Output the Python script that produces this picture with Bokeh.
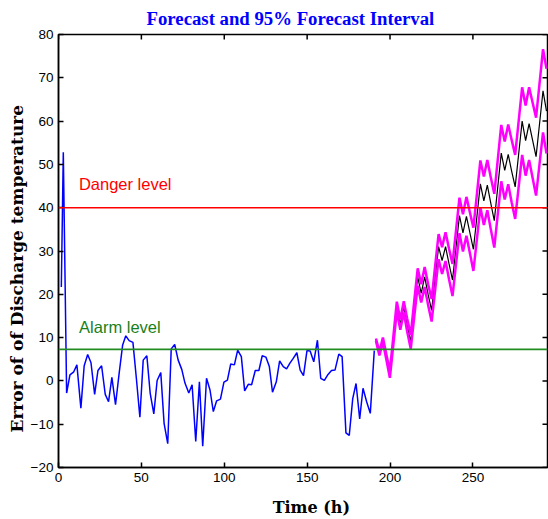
import math
from bokeh.plotting import figure
from bokeh.models import Range1d, Span, Label, FixedTicker
from bokeh.embed import file_html
from bokeh.resources import INLINE

# observed error series (hours, value)
obs_hours = [1.7, 2.9, 4.9, 6.9, 9.2, 11.1, 13.5, 15.5, 17.6, 19.6, 21.8, 23.8, 26.0, 28.2, 30.2,
             32.2, 34.4, 36.6, 38.7, 40.6, 42.6, 44.9, 47.0, 49.1, 51.1, 53.3, 55.3, 57.5, 59.5, 61.7,
             63.7, 65.9, 68.0, 70.1, 72.2, 74.4, 76.3, 78.6, 80.6, 82.8, 85.0, 87.0, 89.3, 91.4, 93.4,
             95.4, 97.7, 99.8, 101.9, 103.9, 106.1, 108.1, 110.3, 112.3, 114.5, 116.5, 118.7, 120.9, 122.9, 125.1,
             127.2, 129.1, 131.4, 133.4, 135.6, 137.6, 139.6, 141.6, 143.8, 145.8, 147.8, 149.9, 151.8, 154.0, 156.2,
             158.2, 160.4, 162.6, 164.7, 166.8, 169.1, 171.1, 173.4, 175.4, 177.5, 179.5, 181.7, 183.7, 185.9, 188.1,
             190.5]
obs_values = [21.7, 52.8, -2.8, 1.4, 2.1, 3.7, -6.3, 3.5, 6.1, 4.2, -3.1, 2.4, 3.5, -3.1, -4.8,
              0.8, -5.5, 1.8, 8.3, 10.4, 9.3, 8.9, 0.5, -8.4, 4.8, 5.8, -2.8, -7.6, 0.1, 1.9,
              -9.8, -14.5, 7.4, 8.4, 4.8, 2.6, -0.5, -2.8, -0.9, -14.0, -0.2, -15.1, 0.6, -2.1, -7.1,
              -4.6, -4.2, -0.3, 0.2, 3.9, 3.7, 7.1, 5.6, -2.3, -0.8, -0.9, 2.4, 2.4, 5.8, 5.5,
              3.3, -2.6, -0.2, 4.6, 3.3, 2.8, 4.1, 5.2, 6.5, 2.5, 1.2, 7.0, 6.9, 4.4, 9.4,
              0.6, 0.1, 1.5, 2.4, 2.5, 6.2, 5.6, -12.0, -12.6, -4.1, -0.6, -8.8, -1.7, -4.8, -7.5,
              7.0]

# forecast and 95% interval
fc_hours = [191.5 + 2.1 * i for i in range(50)]
fc_mean = [9.5, 6.3, 9.5, 5.5, 1.5, 9.3, 17.2, 13.0, 17.1, 12.8, 9.0, 16.6,
           24.0, 20.2, 24.0, 19.9, 16.3, 23.7, 31.0, 27.8, 31.0, 27.0, 23.3, 30.8,
           38.2, 34.2, 38.0, 34.2, 30.4, 37.9, 45.5, 41.6, 45.2, 41.0, 37.0, 44.8,
           52.6, 48.6, 52.3, 48.4, 44.8, 52.4, 60.0, 55.5, 59.4, 55.6, 51.8, 59.4,
           67.0, 62.3]
fc_upper = [9.8, 6.7, 10.0, 6.1, 2.3, 10.2, 18.3, 14.2, 18.4, 14.3, 10.6, 18.4,
            26.0, 22.3, 26.3, 22.3, 18.9, 26.5, 33.9, 30.9, 34.3, 30.5, 27.0, 34.7,
            42.3, 38.5, 42.5, 38.9, 35.4, 43.1, 50.9, 47.2, 51.0, 47.0, 43.2, 51.1,
            59.1, 55.3, 59.2, 55.6, 52.2, 60.0, 67.8, 63.6, 67.8, 64.3, 60.8, 68.7,
            76.6, 72.1]
fc_lower = [9.2, 5.9, 9.0, 4.9, 0.7, 8.4, 16.1, 11.8, 15.8, 11.3, 7.4, 14.8,
            22.0, 18.1, 21.7, 17.5, 13.7, 20.9, 28.1, 24.7, 27.7, 23.5, 19.6, 26.9,
            34.1, 29.9, 33.5, 29.5, 25.4, 32.7, 40.1, 36.0, 39.4, 35.0, 30.8, 38.5,
            46.1, 41.9, 45.4, 41.2, 37.4, 44.8, 52.2, 47.4, 51.0, 46.9, 42.8, 50.1,
            57.4, 52.5]

danger_level = 40
alarm_level = 7.3
x_ticks = [0, 50, 100, 150, 200, 250]
y_ticks = [-20, -10, 0, 10, 20, 30, 40, 50, 60, 70, 80]
x_min, x_max = 0, 295
y_min, y_max = -20, 80

NB = "\u00a0"

p = figure(width=548, height=519, output_backend="svg", toolbar_location=None,
           x_range=Range1d(x_min, x_max), y_range=Range1d(y_min, y_max),
           min_border_left=58, min_border_right=1, min_border_top=33, min_border_bottom=52,
           title="Forecast and 95% Forecast Interval")
p.background_fill_color = "white"
p.border_fill_color = "white"
p.outline_line_color = "black"
p.outline_line_width = 1.5
p.xgrid.visible = False
p.ygrid.visible = False

p.title.text_font = "Liberation Serif"
p.title.text_font_size = "18.75px"
p.title.text_font_style = "bold"
p.title.text_color = "#0000ff"
p.title.align = "left"
p.title.offset = 88
p.title.standoff = 11

for ax in (p.xaxis[0], p.yaxis[0]):
    ax.major_tick_in = 5
    ax.major_tick_out = 0
    ax.minor_tick_in = 0
    ax.minor_tick_out = 0
    ax.axis_line_width = 1.5
    ax.major_tick_line_width = 1.5
    ax.major_label_text_font = "Liberation Sans"
    ax.major_label_text_font_size = "13.5px"
    ax.major_label_text_color = "black"
    ax.axis_label_text_font = "DejaVu Serif"
    ax.axis_label_text_font_style = "bold"
    ax.axis_label_text_color = "black"

p.xaxis.ticker = FixedTicker(ticks=x_ticks)
p.yaxis.ticker = FixedTicker(ticks=y_ticks)
p.xaxis.axis_label = NB * 3 + "Time (h)"
p.yaxis.axis_label = "Error of of Discharge temperature" + NB * 6
p.xaxis.axis_label_text_font_size = "16px"
p.yaxis.axis_label_text_font_size = "17px"
p.xaxis.major_label_standoff = 5
p.xaxis.axis_label_standoff = 13
p.yaxis.major_label_standoff = 5
p.yaxis.axis_label_standoff = 1

# inward ticks on the top and right edges of the box
p.scatter(x_ticks, [y_max] * len(x_ticks), marker="dash", angle=math.pi / 2, size=10,
          line_color="black", line_width=1.5)
p.scatter([x_max] * len(y_ticks), y_ticks, marker="dash", size=10,
          line_color="black", line_width=1.5)

p.line(fc_hours, fc_mean, line_color="black", line_width=1.2)
p.line(fc_hours, fc_upper, line_color="#ff00ff", line_width=2.5)
p.line(fc_hours, fc_lower, line_color="#ff00ff", line_width=2.5)
p.line(obs_hours, obs_values, line_color="#0000ff", line_width=1.5)

p.add_layout(Span(location=danger_level, dimension="width", line_color="#ff0000", line_width=1.5))
p.add_layout(Span(location=alarm_level, dimension="width", line_color="#228b22", line_width=1.8))

p.add_layout(Label(x=12.3, y=45.5, text="Danger level", text_color="#ff0000",
                   text_font="Liberation Sans", text_font_size="16.5px",
                   text_baseline="alphabetic"))
p.add_layout(Label(x=12.4, y=12.5, text="Alarm level", text_color="#1a7f1a",
                   text_font="Liberation Sans", text_font_size="16.5px",
                   text_baseline="alphabetic"))

open("out.html", "w").write(file_html(p, INLINE))
